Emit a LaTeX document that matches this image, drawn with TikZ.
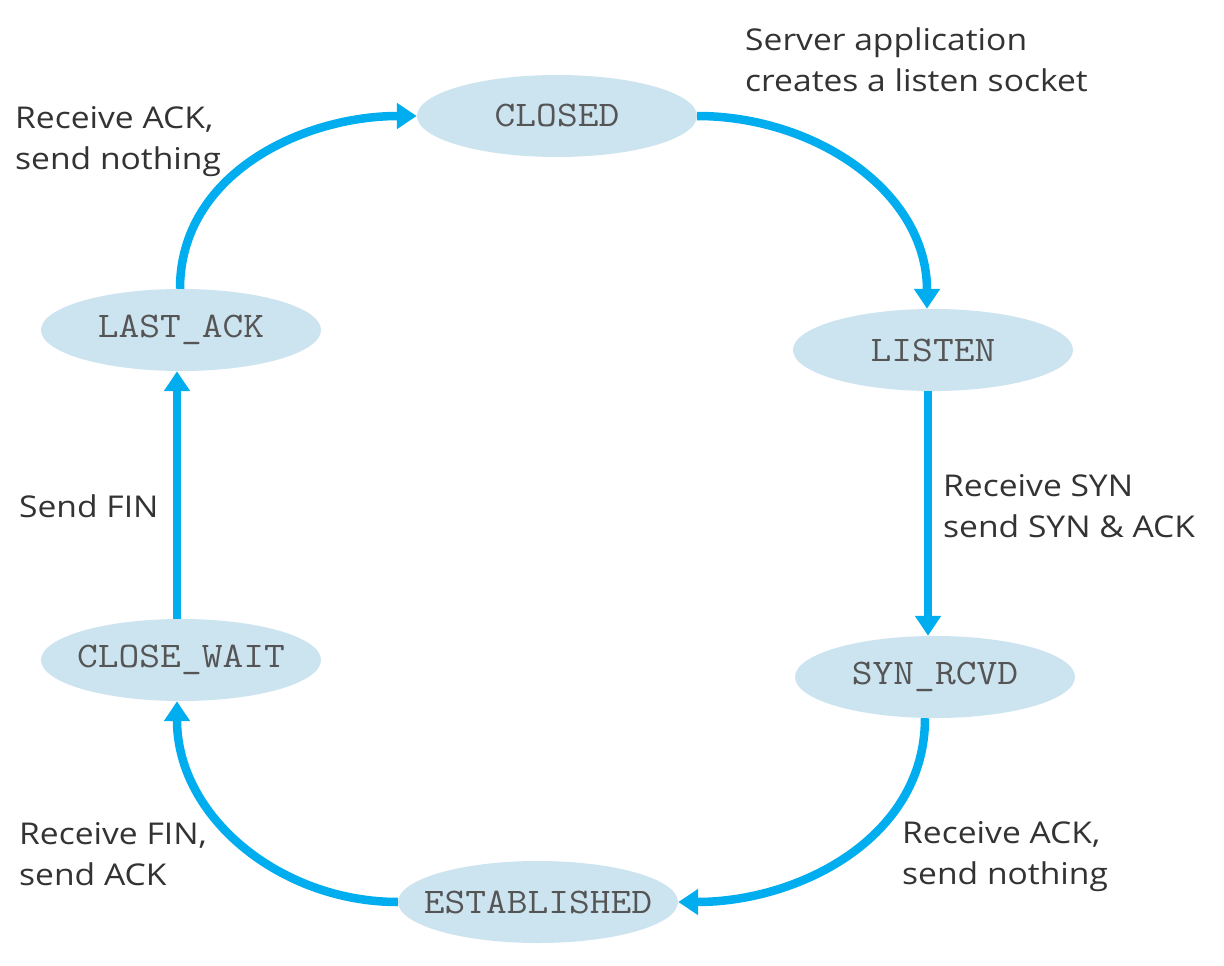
\documentclass[tikz,border=0pt]{standalone}
\usepackage{fontspec}
\setmainfont[FakeStretch=1.12]{Open Sans}
\setmonofont[FakeStretch=1.12]{Latin Modern Mono}
\usetikzlibrary{arrows.meta,shapes.geometric}
\definecolor{arrowblue}{RGB}{0,174,239}
\definecolor{statefill}{RGB}{204,228,240}
\definecolor{labelgray}{RGB}{51,51,51}
\definecolor{stategray}{RGB}{85,85,85}
\begin{document}
\begin{tikzpicture}[x=1pt,y=-1pt,
  state/.style={ellipse, fill=statefill, minimum width=280pt, minimum height=82pt, inner sep=0pt,
    font=\fontsize{36}{36}\ttfamily, text=stategray},
  lbl/.style={anchor=base west, align=left, inner sep=0pt,
    font=\fontsize{30}{41}\selectfont, text=labelgray},
  conn/.style={draw=arrowblue, line width=8.5pt, -{Triangle[length=20pt,width=25pt]}}]
\useasboundingbox (0,0) rectangle (1224,966);
\fill[white] (0,0) rectangle (1224,966);

\node[state] (closed)    at (557,116) {\makebox[0pt]{CLOSED}};
\node[state] (listen)    at (933,350) {\makebox[0pt]{LISTEN}};
\node[state] (synrcvd)   at (935,677) {\makebox[0pt]{SYN\_RCVD}};
\node[state] (est)       at (538,902) {\makebox[0pt]{ESTABLISHED}};
\node[state] (closewait) at (181,660) {\makebox[0pt]{CLOSE\_WAIT}};
\node[state] (lastack)   at (181,330) {\makebox[0pt]{LAST\_ACK}};

\draw[conn] (closed.east) to[out=0,in=90] ([xshift=-6pt]listen.north);
\draw[conn] ([xshift=-5pt]listen.south) -- ([xshift=-7pt]synrcvd.north);
\draw[conn] ([xshift=-10pt]synrcvd.south) to[out=-90,in=0] (est.east);
\draw[conn] (est.west) to[out=180,in=-90] ([xshift=-4pt]closewait.south);
\draw[conn] ([xshift=-4pt]closewait.north) -- ([xshift=-4pt]lastack.south);
\draw[conn] ([xshift=-1pt]lastack.north) to[out=90,in=180] (closed.west);

\node[lbl] (l1) at (15,169) {Receive ACK,\\send nothing};
\node[lbl] (l2) at (745,92) {Server application\\creates a listen socket};
\node[lbl] (l3) at (943,537) {Receive SYN\\send SYN \& ACK};
\node[lbl] (l4) at (902,884) {Receive ACK,\\send nothing};
\node[lbl] (l5) at (19,885) {Receive FIN,\\send ACK};
\node[lbl] (l6) at (19,517) {Send FIN};
\end{tikzpicture}
\end{document}
